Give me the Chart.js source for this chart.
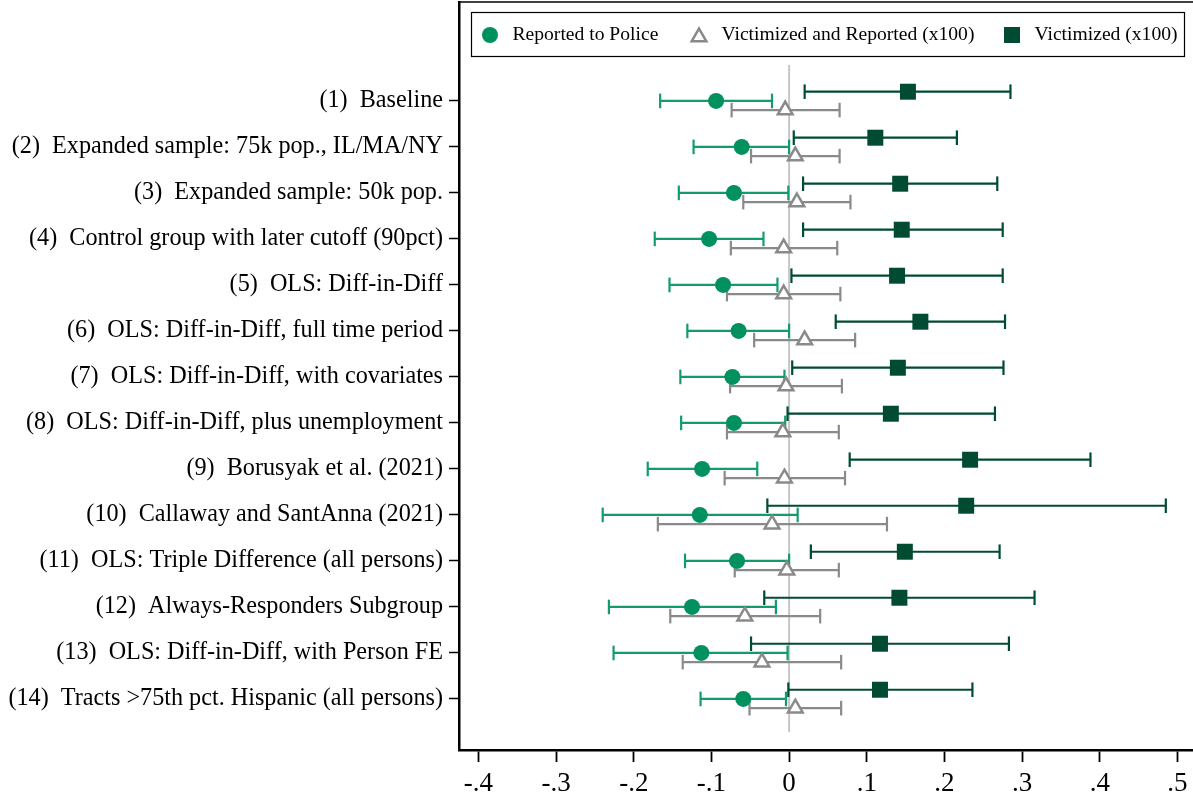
<!DOCTYPE html>
<html>
<head>
<meta charset="utf-8">
<title>Robustness of estimates</title>
<script src="https://cdn.jsdelivr.net/npm/chart.js@4.4.0/dist/chart.umd.min.js"></script>
<style>
  html, body { margin: 0; padding: 0; background: #fff; }
  #wrap { width: 1193px; height: 800px; }
</style>
</head>
<body>
<div id="wrap"><canvas id="coefChart" width="1193" height="800"></canvas></div>
<script>
// specifications, top to bottom
const specLabels = [
  '(1)  Baseline',
  '(2)  Expanded sample: 75k pop., IL/MA/NY',
  '(3)  Expanded sample: 50k pop.',
  '(4)  Control group with later cutoff (90pct)',
  '(5)  OLS: Diff-in-Diff',
  '(6)  OLS: Diff-in-Diff, full time period',
  '(7)  OLS: Diff-in-Diff, with covariates',
  '(8)  OLS: Diff-in-Diff, plus unemployment',
  '(9)  Borusyak et al. (2021)',
  '(10)  Callaway and SantAnna (2021)',
  '(11)  OLS: Triple Difference (all persons)',
  '(12)  Always-Responders Subgroup',
  '(13)  OLS: Diff-in-Diff, with Person FE',
  '(14)  Tracts >75th pct. Hispanic (all persons)'
];

// Reported to Police
const reportedEst = [-0.094, -0.061, -0.071, -0.103, -0.085, -0.065, -0.073, -0.071, -0.112, -0.115, -0.067, -0.125, -0.113, -0.059];
const reportedLo  = [-0.166, -0.123, -0.142, -0.173, -0.154, -0.131, -0.140, -0.139, -0.182, -0.240, -0.134, -0.232, -0.226, -0.114];
const reportedHi  = [-0.022,  0.000, -0.001, -0.033, -0.015,  0.000, -0.006, -0.005, -0.041,  0.011,  0.000, -0.017, -0.002, -0.004];

// Victimized and Reported (x100)
const vicRepEst = [-0.005,  0.008,  0.010, -0.007, -0.007,  0.020, -0.004, -0.008, -0.006, -0.022, -0.003, -0.057, -0.035,  0.008];
const vicRepLo  = [-0.074, -0.049, -0.059, -0.075, -0.080, -0.045, -0.076, -0.080, -0.083, -0.169, -0.070, -0.153, -0.137, -0.051];
const vicRepHi  = [ 0.065,  0.065,  0.079,  0.062,  0.066,  0.085,  0.068,  0.064,  0.072,  0.126,  0.064,  0.040,  0.067,  0.067];

// Victimized (x100)
const victimEst = [0.153, 0.111, 0.143, 0.145, 0.139, 0.169, 0.140, 0.131, 0.233, 0.228, 0.149, 0.142, 0.117, 0.117];
const victimLo  = [0.020, 0.006, 0.018, 0.018, 0.003, 0.060, 0.004, -0.002, 0.078, -0.028, 0.028, -0.032, -0.049, -0.001];
const victimHi  = [0.285, 0.216, 0.268, 0.275, 0.275, 0.278, 0.276, 0.265, 0.388, 0.485, 0.271, 0.316, 0.283, 0.236];

const xTicks = [-0.4, -0.3, -0.2, -0.1, 0, 0.1, 0.2, 0.3, 0.4, 0.5];

const GREEN = '#00915f';
const GREEN_CI = '#129c6c';
const DARK = '#004b32';
const GRAY = '#8a8a8a';
const SERIF = '"Liberation Serif", "Times New Roman", serif';

const ROW_SHIFT = 0.2;   // vertical offset of the two x100 series inside a row

function pointRows(est, shift) {
  return est.map((v, i) => ({ x: v, y: i + 1 + shift }));
}

// one segment per row, separated by an empty point so the line breaks
function ciSegments(lo, hi, shift) {
  const out = [];
  lo.forEach((l, i) => {
    const y = i + 1 + shift;
    out.push({ x: l, y: y }, { x: hi[i], y: y }, { x: null, y: null });
  });
  return out;
}

function ciDataset(lo, hi, shift, color, order) {
  return {
    data: ciSegments(lo, hi, shift),
    showLine: true,
    borderColor: color,
    borderWidth: 2.2,
    pointStyle: 'line',
    rotation: 90,
    pointRadius: 7.3,
    pointBorderWidth: 2.2,
    pointBorderColor: color,
    pointHoverRadius: 7.3,
    order: order
  };
}

const fmtTick = (v) => {
  if (Math.abs(v) < 1e-9) return '0';
  return (v < 0 ? '-' : '') + Math.abs(v).toFixed(1).replace(/^0/, '');
};

// drop the label-overflow padding so the plot box fills the canvas
const noPad = (scale) => {
  scale.paddingTop = 0;
  scale.paddingBottom = 0;
  scale.paddingLeft = 0;
  scale.paddingRight = 0;
};

// reference line at zero, drawn under the markers
const zeroLine = {
  id: 'zeroLine',
  beforeDatasetsDraw(chart) {
    const { ctx, scales: { x, y } } = chart;
    const px = x.getPixelForValue(0);
    ctx.save();
    ctx.strokeStyle = '#c6c6c6';
    ctx.lineWidth = 2;
    ctx.beginPath();
    ctx.moveTo(px, y.getPixelForValue(0.22));
    ctx.lineTo(px, y.getPixelForValue(14.72));
    ctx.stroke();
    ctx.restore();
  }
};

// top border of the plot region
const topFrame = {
  id: 'topFrame',
  afterDraw(chart) {
    const { ctx, chartArea } = chart;
    ctx.save();
    ctx.strokeStyle = '#000';
    ctx.lineWidth = 1.5;
    ctx.beginPath();
    ctx.moveTo(chartArea.left - 1, chartArea.top);
    ctx.lineTo(chart.width, chartArea.top);
    ctx.stroke();
    ctx.restore();
  }
};

// boxed legend inside the plot region
const boxLegend = {
  id: 'boxLegend',
  afterDraw(chart) {
    const { ctx } = chart;
    const items = chart.data.datasets.filter(d => d.legendX !== undefined);
    const cy = 35;
    ctx.save();
    ctx.fillStyle = '#fff';
    ctx.fillRect(471.5, 12.5, 713, 44);
    ctx.strokeStyle = '#000';
    ctx.lineWidth = 1.2;
    ctx.strokeRect(471.5, 12.5, 713, 44);
    ctx.restore();

    items.forEach(d => {
      ctx.save();
      ctx.fillStyle = d.pointBackgroundColor;
      ctx.strokeStyle = d.pointBorderColor;
      ctx.lineWidth = d.pointBorderWidth;
      Chart.helpers.drawPoint(ctx, {
        pointStyle: d.pointStyle,
        radius: d.pointRadius,
        borderWidth: d.pointBorderWidth,
        rotation: 0
      }, d.legendX, cy + (d.pointStyle === 'triangle' ? 2 : 0));
      ctx.fillStyle = '#000';
      ctx.font = '19.6px ' + SERIF;
      ctx.textBaseline = 'middle';
      ctx.textAlign = 'left';
      ctx.fillText(d.label, d.legendX + 22.5, cy);
      ctx.restore();
    });
  }
};

const datasets = [
  {
    label: 'Reported to Police',
    data: pointRows(reportedEst, 0),
    pointStyle: 'circle',
    pointRadius: 8,
    pointBorderWidth: 0,
    pointBackgroundColor: GREEN,
    pointBorderColor: GREEN,
    legendX: 490,
    order: 3
  },
  {
    label: 'Victimized and Reported (x100)',
    data: pointRows(vicRepEst, ROW_SHIFT),
    pointStyle: 'triangle',
    pointRadius: 8.5,
    pointBorderWidth: 2.5,
    pointBackgroundColor: '#fff',
    pointBorderColor: GRAY,
    legendX: 699,
    order: 2
  },
  {
    label: 'Victimized (x100)',
    data: pointRows(victimEst, -ROW_SHIFT),
    pointStyle: 'rect',
    pointRadius: 11.3,
    pointBorderWidth: 0,
    pointBackgroundColor: DARK,
    pointBorderColor: DARK,
    legendX: 1012,
    order: 1
  },
  ciDataset(reportedLo, reportedHi, 0, GREEN_CI, 6),
  ciDataset(vicRepLo, vicRepHi, ROW_SHIFT, GRAY, 5),
  ciDataset(victimLo, victimHi, -ROW_SHIFT, DARK, 4)
];

new Chart(document.getElementById('coefChart'), {
  type: 'scatter',
  data: { datasets: datasets },
  options: {
    responsive: false,
    animation: false,
    layout: { autoPadding: false, padding: { top: 2, right: 0, bottom: 0, left: 0 } },
    plugins: {
      legend: { display: false },
      tooltip: { enabled: false }
    },
    scales: {
      x: {
        type: 'linear',
        min: -0.425,
        max: 0.52,
        afterBuildTicks: (scale) => { scale.ticks = xTicks.map(v => ({ value: v })); },
        afterFit: (scale) => { scale.height = 50; noPad(scale); },
        ticks: {
          callback: fmtTick,
          color: '#000',
          padding: 6,
          maxRotation: 0,
          autoSkip: false,
          font: { family: SERIF, size: 27 }
        },
        grid: {
          drawOnChartArea: false,
          drawTicks: true,
          tickLength: 12,
          tickColor: '#000',
          tickWidth: 1.8
        },
        border: { display: true, color: '#000', width: 2.5 }
      },
      y: {
        type: 'linear',
        reverse: true,
        min: -1.15,
        max: 15.11,
        afterBuildTicks: (scale) => { scale.ticks = specLabels.map((_, i) => ({ value: i + 1 })); },
        afterFit: (scale) => { scale.width = 459; noPad(scale); },
        ticks: {
          callback: (v) => specLabels[v - 1],
          color: '#000',
          padding: 6,
          autoSkip: false,
          font: { family: SERIF, size: 24.2 }
        },
        grid: {
          drawOnChartArea: false,
          drawTicks: true,
          tickLength: 10,
          tickColor: '#000',
          tickWidth: 1.5
        },
        border: { display: true, color: '#000', width: 2.5 }
      }
    }
  },
  plugins: [zeroLine, topFrame, boxLegend]
});
</script>
</body>
</html>
